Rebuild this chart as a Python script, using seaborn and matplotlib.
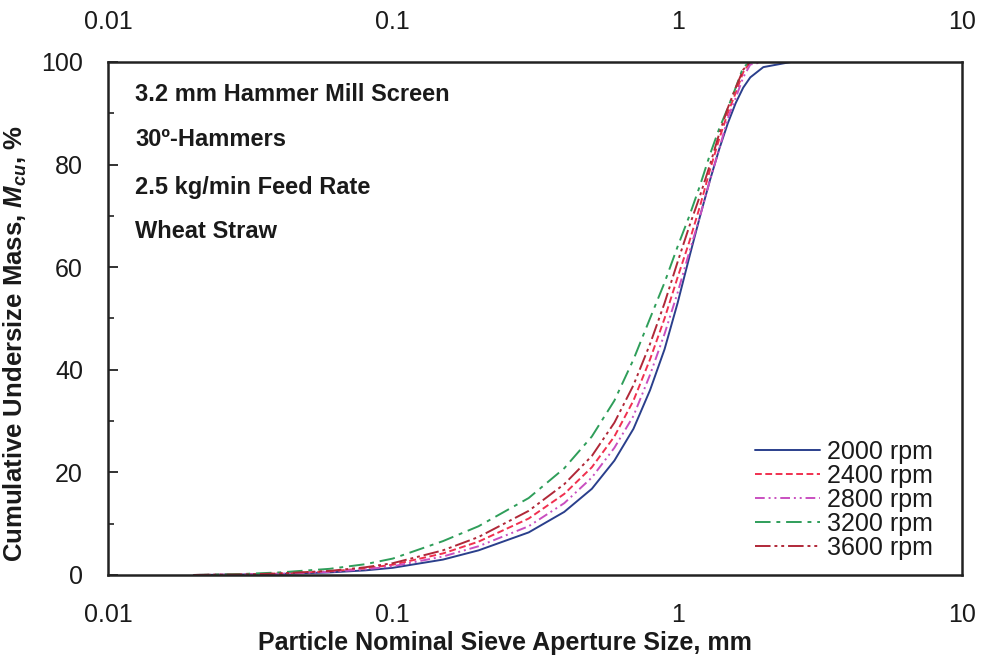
import numpy as np
import pandas as pd
import matplotlib
matplotlib.use("Agg")
import matplotlib.pyplot as plt
import seaborn as sns
from matplotlib.ticker import FixedLocator, NullFormatter, LogLocator

sizes = [0.02, 0.03, 0.04, 0.06, 0.08, 0.1, 0.15, 0.2, 0.3, 0.4, 0.5, 0.6, 0.7,
         0.8, 0.9, 1.0, 1.1, 1.2, 1.3, 1.4, 1.5, 1.6, 1.7, 1.8, 2.0, 2.5, 5.0]
m2000 = [0.0, 0.1, 0.2, 0.5, 0.9, 1.4, 3.0, 4.8, 8.3, 12.3, 16.8, 22.3, 28.5,
         36.0, 44.0, 53.0, 62.0, 70.0, 77.0, 83.0, 88.0, 92.0, 95.0, 97.0, 99.0, 100.0, 100.0]
m2400 = [0.0, 0.1, 0.3, 0.7, 1.3, 2.0, 4.2, 6.5, 11.0, 15.8, 21.0, 27.0, 34.0,
         42.0, 50.0, 58.0, 65.0, 72.0, 79.0, 85.0, 90.0, 94.0, 98.0, 100.0, 100.0, 100.0, 100.0]
m2800 = [0.0, 0.1, 0.2, 0.6, 1.1, 1.7, 3.6, 5.6, 9.5, 14.0, 19.0, 24.8, 31.0,
         39.0, 47.0, 55.0, 63.0, 70.0, 77.0, 83.0, 89.0, 93.0, 97.0, 99.5, 100.0, 100.0, 100.0]
m3200 = [0.0, 0.2, 0.5, 1.2, 2.1, 3.2, 6.6, 9.5, 15.0, 20.8, 27.0, 34.0, 42.0,
         50.0, 57.0, 64.0, 70.0, 76.0, 82.0, 87.0, 91.0, 95.0, 99.0, 100.0, 100.0, 100.0, 100.0]
m3600 = [0.0, 0.1, 0.3, 0.8, 1.5, 2.3, 4.8, 7.4, 12.5, 17.7, 23.2, 29.7, 37.0,
         45.0, 53.0, 61.0, 68.0, 74.0, 80.0, 86.0, 91.0, 95.0, 98.5, 100.0, 100.0, 100.0, 100.0]
labels = ["2000 rpm", "2400 rpm", "2800 rpm", "3200 rpm", "3600 rpm"]
x_ticks = [0.01, 0.1, 1, 10]
x_ticklabels = ["0.01", "0.1", "1", "10"]
notes = ["3.2 mm Hammer Mill Screen", "30\u00ba-Hammers", "2.5 kg/min Feed Rate", "Wheat Straw"]

series = [m2000, m2400, m2800, m3200, m3600]
rows = []
for lab, vals in zip(labels, series):
    for s, v in zip(sizes, vals):
        rows.append({"size": s, "mass": v, "speed": lab})
df = pd.DataFrame(rows)

sns.set_theme(style="white")
plt.rcParams["font.family"] = ["Liberation Sans", "DejaVu Sans"]
plt.rcParams["mathtext.fontset"] = "custom"
plt.rcParams["mathtext.it"] = "Liberation Sans:italic:bold"
plt.rcParams["mathtext.rm"] = "Liberation Sans:bold"
plt.rcParams["mathtext.bf"] = "Liberation Sans:bold"

colors = {"2000 rpm": "#2a3f8c", "2400 rpm": "#f0304f", "2800 rpm": "#c94fc0",
          "3200 rpm": "#2f9e5a", "3600 rpm": "#b02838"}
dashes = {"2000 rpm": "", "2400 rpm": (3.5, 1.8), "2800 rpm": (5, 2, 1, 2, 1, 2),
          "3200 rpm": (8, 3, 2, 3), "3600 rpm": (8, 2, 1.5, 2, 1.5, 2)}

fig = plt.figure(figsize=(9.82, 6.56), dpi=100)
ax = fig.add_axes([0.11, 0.1235, 0.87, 0.782])

sns.lineplot(data=df, x="size", y="mass", hue="speed", style="speed",
             palette=colors, dashes=dashes, hue_order=labels, style_order=labels,
             linewidth=1.4, ax=ax)

ax.set_xscale("log")
ax.set_xlim(0.01, 10)
ax.set_ylim(0, 100)
ax.set_xticks(x_ticks)
ax.set_xticklabels(x_ticklabels)
ax.xaxis.set_minor_locator(LogLocator(base=10, subs=np.arange(2, 10)))
ax.xaxis.set_minor_formatter(NullFormatter())
ax.set_yticks([0, 20, 40, 60, 80, 100])
ax.yaxis.set_minor_locator(FixedLocator([10, 30, 50, 70, 90]))

for sp in ax.spines.values():
    sp.set_color("#222222")
    sp.set_linewidth(1.8)

ax.tick_params(axis="both", which="major", direction="in", length=7, width=1.3,
               labelsize=18, colors="#222222", labelcolor="#1a1a1a")
ax.tick_params(axis="both", which="minor", direction="in", length=4, width=1.2,
               colors="#222222")
ax.tick_params(axis="x", which="both", top=False, labeltop=True)
ax.tick_params(axis="x", which="major", pad=20)
ax.tick_params(axis="y", which="major", pad=18)
ax.tick_params(axis="y", which="both", left=True, right=False)

ax.set_xlabel("Particle Nominal Sieve Aperture Size, mm", fontsize=18,
              fontweight="bold", color="#1a1a1a", va="top")
ax.xaxis.set_label_coords(0.465, -0.11)
ax.set_ylabel("Cumulative Undersize Mass, $\\mathit{M}_{cu}$, %", fontsize=18.5,
              fontweight="bold", color="#1a1a1a")
ax.yaxis.set_label_coords(-0.092, 0.45)

ys = [0.936, 0.848, 0.756, 0.669]
for txt, yy in zip(notes, ys):
    ax.text(0.032, yy, txt, transform=ax.transAxes, fontsize=17,
            fontweight="bold", color="#1a1a1a", va="center", ha="left")

leg = ax.legend(loc="lower right", bbox_to_anchor=(0.966, 0.03), frameon=False,
                fontsize=18, handlelength=2.6, handletextpad=0.3, labelspacing=0.0,
                borderaxespad=0.0, borderpad=0.0)
for t in leg.get_texts():
    t.set_color("#1a1a1a")

fig.savefig("out.png", dpi=100)
